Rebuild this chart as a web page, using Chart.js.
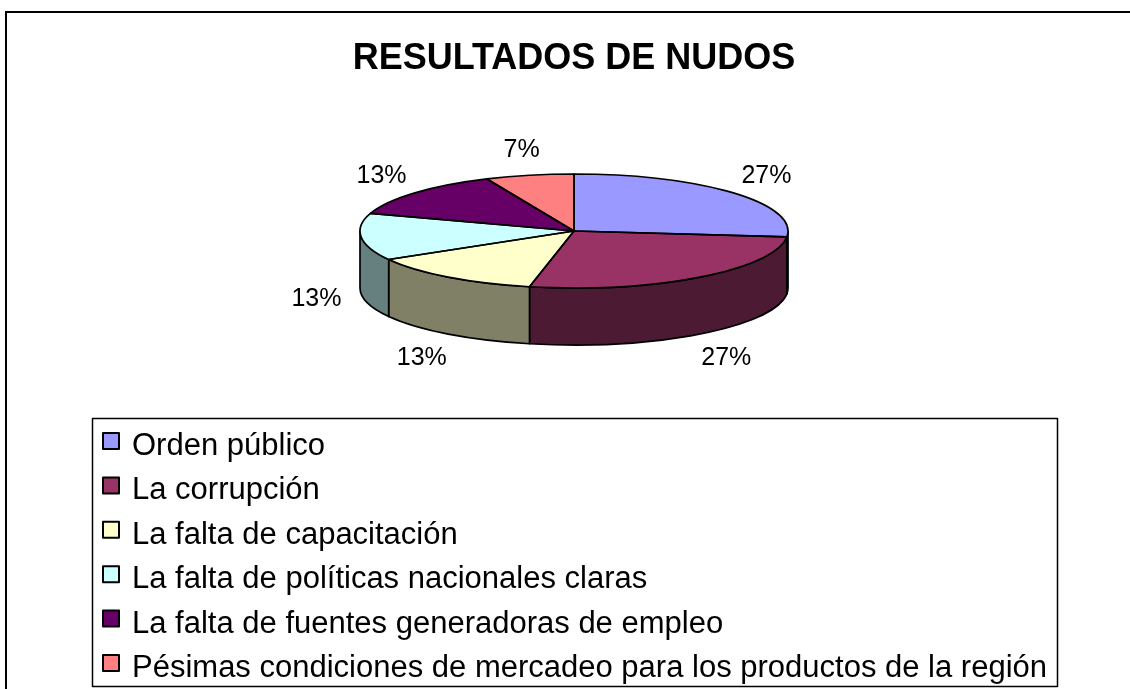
<!DOCTYPE html>
<html>
<head>
<meta charset="utf-8">
<script src="https://cdn.jsdelivr.net/npm/chart.js@4/dist/chart.umd.min.js"></script>
<style>
html,body{margin:0;padding:0;background:#fff;}
#wrap{position:relative;width:1130px;height:689px;overflow:hidden;}
canvas{display:block;}
</style>
</head>
<body>
<div id="wrap"><canvas id="c" width="1130" height="689"></canvas></div>
<script>
// ---- data ----
const titleText = 'RESULTADOS DE NUDOS';
const categories = [
  'Orden público',
  'La corrupción',
  'La falta de capacitación',
  'La falta de políticas nacionales claras',
  'La falta de fuentes generadoras de empleo',
  'Pésimas condiciones de mercadeo para los productos de la región'
];
const counts = [4, 4, 2, 2, 2, 1];
const topColors  = ['#9999FF', '#993366', '#FFFFCC', '#CCFFFF', '#660066', '#FF8080'];
const sideColors = ['#4C4C80', '#4C1A33', '#808066', '#668080', '#330033', '#804040'];

// ---- style constants ----
const FONT = '"Liberation Sans", Arial, sans-serif';
const CY = 231;          // centre of the top face
const TILT = 57 / 214;   // vertical squash of the pie
const DEPTH = 57;        // thickness of the pie

const pie3d = {
  id: 'pie3d',
  beforeDraw(chart) {
    const ctx = chart.ctx;
    ctx.save();
    ctx.fillStyle = '#fff';
    ctx.fillRect(0, 0, chart.width, chart.height);
    ctx.strokeStyle = '#000';
    ctx.lineWidth = 2;
    ctx.strokeRect(6, 12, chart.width + 20, chart.height + 20);
    ctx.restore();
  },
  beforeDatasetsDraw(chart) {
    const ctx = chart.ctx;
    const meta = chart.getDatasetMeta(0);
    const a0 = meta.data[0];
    const cx = a0.x, R = a0.outerRadius, ry = R * TILT;
    ctx.save();
    ctx.lineWidth = 1.7;
    ctx.strokeStyle = '#000';
    ctx.lineJoin = 'round';
    meta.data.forEach((arc, i) => {
      const s = Math.max(arc.startAngle, 0);
      const e = Math.min(arc.endAngle, Math.PI);
      if (e <= s) return;
      ctx.beginPath();
      ctx.ellipse(cx, CY, R, ry, 0, s, e, false);
      ctx.lineTo(cx + R * Math.cos(e), CY + DEPTH + ry * Math.sin(e));
      ctx.ellipse(cx, CY + DEPTH, R, ry, 0, e, s, true);
      ctx.closePath();
      ctx.fillStyle = sideColors[i];
      ctx.fill();
      ctx.stroke();
    });
    ctx.restore();
    // squash the library-drawn pie into the top face
    ctx.save();
    ctx.translate(0, CY);
    ctx.scale(1, TILT);
    ctx.translate(0, -a0.y);
  },
  afterDatasetsDraw(chart) {
    const ctx = chart.ctx;
    ctx.restore();
    const meta = chart.getDatasetMeta(0);
    const a0 = meta.data[0];
    const cx = a0.x, R = a0.outerRadius, ry = R * TILT;
    const data = chart.data.datasets[0].data;
    const total = data.reduce((p, v) => p + v, 0);
    ctx.save();
    ctx.lineWidth = 1.7;
    ctx.strokeStyle = '#000';
    ctx.lineJoin = 'round';
    meta.data.forEach((arc) => {
      ctx.beginPath();
      ctx.moveTo(cx, CY);
      ctx.lineTo(cx + R * Math.cos(arc.startAngle), CY + ry * Math.sin(arc.startAngle));
      ctx.ellipse(cx, CY, R, ry, 0, arc.startAngle, arc.endAngle, false);
      ctx.closePath();
      ctx.stroke();
    });
    // percentage labels
    const fs = 25;
    ctx.font = fs + 'px ' + FONT;
    ctx.fillStyle = '#000';
    ctx.textAlign = 'center';
    ctx.textBaseline = 'alphabetic';
    const gx = 20, gy = 15;
    meta.data.forEach((arc, i) => {
      const txt = Math.round(data[i] / total * 100) + '%';
      const w = ctx.measureText(txt).width, h = fs;
      const m = (arc.startAngle + arc.endAngle) / 2;
      const c = Math.cos(m), s = Math.sin(m);
      const x = cx + (R + gx) * c + c * w / 2;
      const y = CY + (ry + gy) * s + s * h / 2 + (s > 0 ? DEPTH : 0);
      ctx.fillText(txt, x, y + 0.358 * fs);
    });
    // legend
    const L = { x: 92, y: 418, w: 965, h: 268, first: 444, step: 44.4, fs: 31 };
    ctx.lineWidth = 1.5;
    ctx.strokeRect(L.x + 0.5, L.y + 0.5, L.w, L.h);
    ctx.font = L.fs + 'px ' + FONT;
    ctx.textAlign = 'left';
    chart.data.labels.forEach((lab, i) => {
      const yc = L.first + i * L.step;
      ctx.fillStyle = topColors[i];
      ctx.fillRect(103, yc - 11, 16, 16);
      ctx.lineWidth = 2;
      ctx.strokeRect(103, yc - 11, 16, 16);
      ctx.fillStyle = '#000';
      ctx.fillText(lab, 132, yc + 0.358 * L.fs);
    });
    ctx.restore();
  }
};

new Chart(document.getElementById('c'), {
  type: 'pie',
  data: {
    labels: categories,
    datasets: [{
      data: counts,
      backgroundColor: topColors,
      borderWidth: 0
    }]
  },
  options: {
    responsive: false,
    devicePixelRatio: 1,
    animation: false,
    radius: 214,
    layout: { padding: { left: 18, top: 0, right: 0, bottom: 0 } },
    events: [],
    plugins: {
      legend: { display: false },
      tooltip: { enabled: false },
      title: {
        display: true,
        text: titleText,
        color: '#000',
        font: { family: FONT, size: 36, weight: 'bold', lineHeight: 1.2 },
        padding: { top: 37, bottom: 10 }
      }
    }
  },
  plugins: [pie3d]
});
</script>
</body>
</html>
